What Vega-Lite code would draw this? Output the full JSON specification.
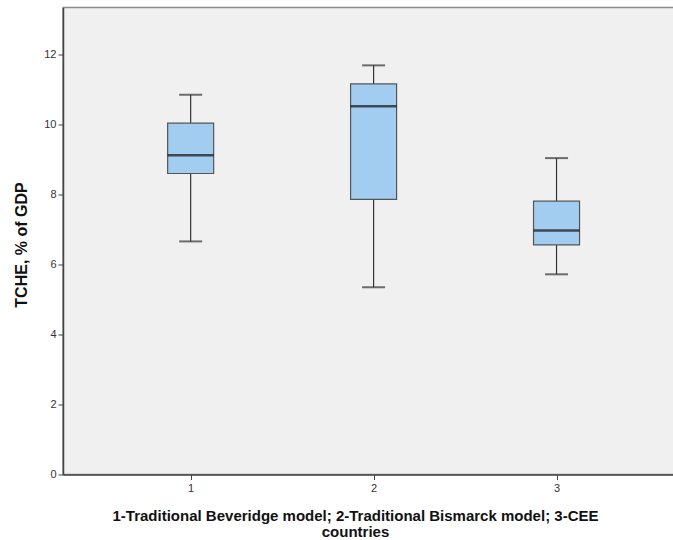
{
  "$schema": "https://vega.github.io/schema/vega-lite/v6.json",
  "autosize": "none",
  "width": 611,
  "height": 467,
  "padding": {"left": 63, "top": 7.5, "right": 0, "bottom": 65.5},
  "background": "white",
  "config": {
    "font": "Liberation Sans",
    "view": {"fill": "#f0f0f0", "stroke": "#8a8a8a", "strokeWidth": 1.5},
    "axis": {
      "grid": false,
      "domainColor": "#444444",
      "domainWidth": 1.5,
      "tickColor": "#444444",
      "tickSize": 5,
      "labelFont": "Liberation Sans",
      "labelFontSize": 11,
      "labelColor": "#333333",
      "titleFont": "Liberation Sans",
      "titleFontWeight": "bold",
      "titleColor": "#111111"
    }
  },
  "data": {
    "values": [
      {"group": 1, "lo": 6.66, "q1": 8.6, "median": 9.12, "q3": 10.04, "hi": 10.85},
      {"group": 2, "lo": 5.35, "q1": 7.86, "median": 10.52, "q3": 11.16, "hi": 11.69},
      {"group": 3, "lo": 5.72, "q1": 6.56, "median": 6.97, "q3": 7.81, "hi": 9.04}
    ]
  },
  "encoding": {
    "x": {
      "field": "group",
      "type": "quantitative",
      "scale": {"domain": [0.3296, 3.6147], "nice": false, "zero": false},
      "axis": {
        "values": [1, 2, 3],
        "format": "d",
        "labelPadding": 3,
        "titlePadding": 15,
        "title": ["1-Traditional Beveridge model; 2-Traditional Bismarck model; 3-CEE", "countries"],
        "titleFontSize": 15,
        "titleX": 292,
        "titleLineHeight": 16
      }
    }
  },
  "layer": [
    {
      "mark": {"type": "rule", "color": "#333333", "strokeWidth": 1.2},
      "encoding": {
        "y": {
          "field": "lo",
          "type": "quantitative",
          "scale": {"domain": [0, 13.343], "nice": false},
          "axis": {
            "values": [0, 2, 4, 6, 8, 10, 12],
            "title": "TCHE, % of GDP",
            "titleFontSize": 16,
            "titleY": 237,
            "labelPadding": 2,
            "titlePadding": 14
          }
        },
        "y2": {"field": "hi"}
      }
    },
    {
      "mark": {"type": "bar", "width": 46, "fill": "#a3cdf0", "stroke": "#555555", "strokeWidth": 1.2},
      "encoding": {
        "y": {"field": "q1", "type": "quantitative"},
        "y2": {"field": "q3"}
      }
    },
    {
      "mark": {"type": "tick", "orient": "horizontal", "size": 46, "thickness": 2.5, "color": "#111111"},
      "encoding": {"y": {"field": "median", "type": "quantitative"}}
    },
    {
      "mark": {"type": "tick", "orient": "horizontal", "size": 23, "thickness": 2, "color": "#333333"},
      "encoding": {"y": {"field": "lo", "type": "quantitative"}}
    },
    {
      "mark": {"type": "tick", "orient": "horizontal", "size": 23, "thickness": 2, "color": "#333333"},
      "encoding": {"y": {"field": "hi", "type": "quantitative"}}
    }
  ]
}
